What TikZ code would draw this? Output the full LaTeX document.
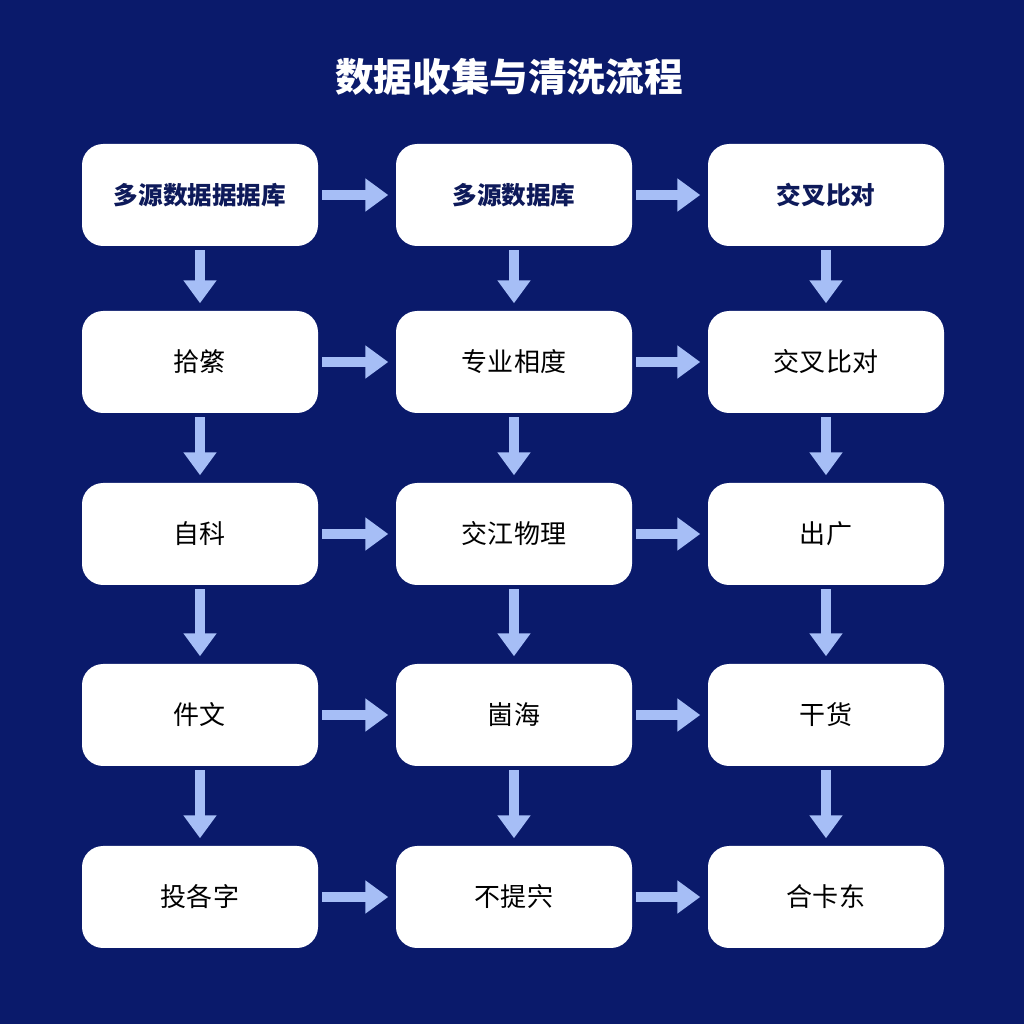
\documentclass[tikz,border=0pt]{standalone}
\usepackage{fontspec}
\newfontfamily\cjk{Noto Sans CJK SC}
\usetikzlibrary{positioning,arrows.meta}
\definecolor{bgblue}{HTML}{0A1A6B}
\definecolor{arrowblue}{HTML}{A6BEF6}
\definecolor{navytext}{HTML}{0E1A5A}
\tikzset{
  box/.style={draw=none, fill=white, rounded corners=6pt, minimum width=2.36cm,
    minimum height=1.02cm, font=\cjk\fontsize{7.4}{9}\selectfont, text=black},
  headbox/.style={box, text=navytext, font=\cjk\bfseries\fontsize{7}{9}\selectfont},
  flow/.style={draw=arrowblue, line width=2.8pt,
    -{Triangle[length=6.5pt, width=9pt]}, shorten <=1pt, shorten >=2pt}
}
\begin{document}
\begin{tikzpicture}
  \fill[bgblue] (0,0) rectangle (10.24,10.24);
  \useasboundingbox (0,0) rectangle (10.24,10.24);
  \node[text=white, font=\cjk\bfseries\fontsize{11}{13}\selectfont] (title) at (5.09,9.47) {数据收集与清洗流程};

  \node[headbox] (a1) at (2.00,8.29) {多源数据据据库};
  \node[headbox] (b1) at (5.14,8.29) {多源数据库};
  \node[headbox] (c1) at (8.26,8.29) {交叉比对};

  \node[box] (a2) at (2.00,6.62) {拾綮};
  \node[box] (b2) at (5.14,6.62) {专业相度};
  \node[box] (c2) at (8.26,6.62) {交叉比对};

  \node[box] (a3) at (2.00,4.90) {自科};
  \node[box] (b3) at (5.14,4.90) {交江物理};
  \node[box] (c3) at (8.26,4.90) {出广};

  \node[box] (a4) at (2.00,3.09) {件文};
  \node[box] (b4) at (5.14,3.09) {崮海};
  \node[box] (c4) at (8.26,3.09) {干货};

  \node[box] (a5) at (2.00,1.27) {投各字};
  \node[box] (b5) at (5.14,1.27) {不提宍};
  \node[box] (c5) at (8.26,1.27) {合卡东};

  \foreach \r in {1,...,5} {
    \draw[flow] (a\r) -- (b\r);
    \draw[flow] (b\r) -- (c\r);
  }
  \foreach \c in {a,b,c} {
    \foreach \r [evaluate=\r as \n using int(\r+1)] in {1,...,4}
      \draw[flow] (\c\r) -- (\c\n);
  }
\end{tikzpicture}
\end{document}
